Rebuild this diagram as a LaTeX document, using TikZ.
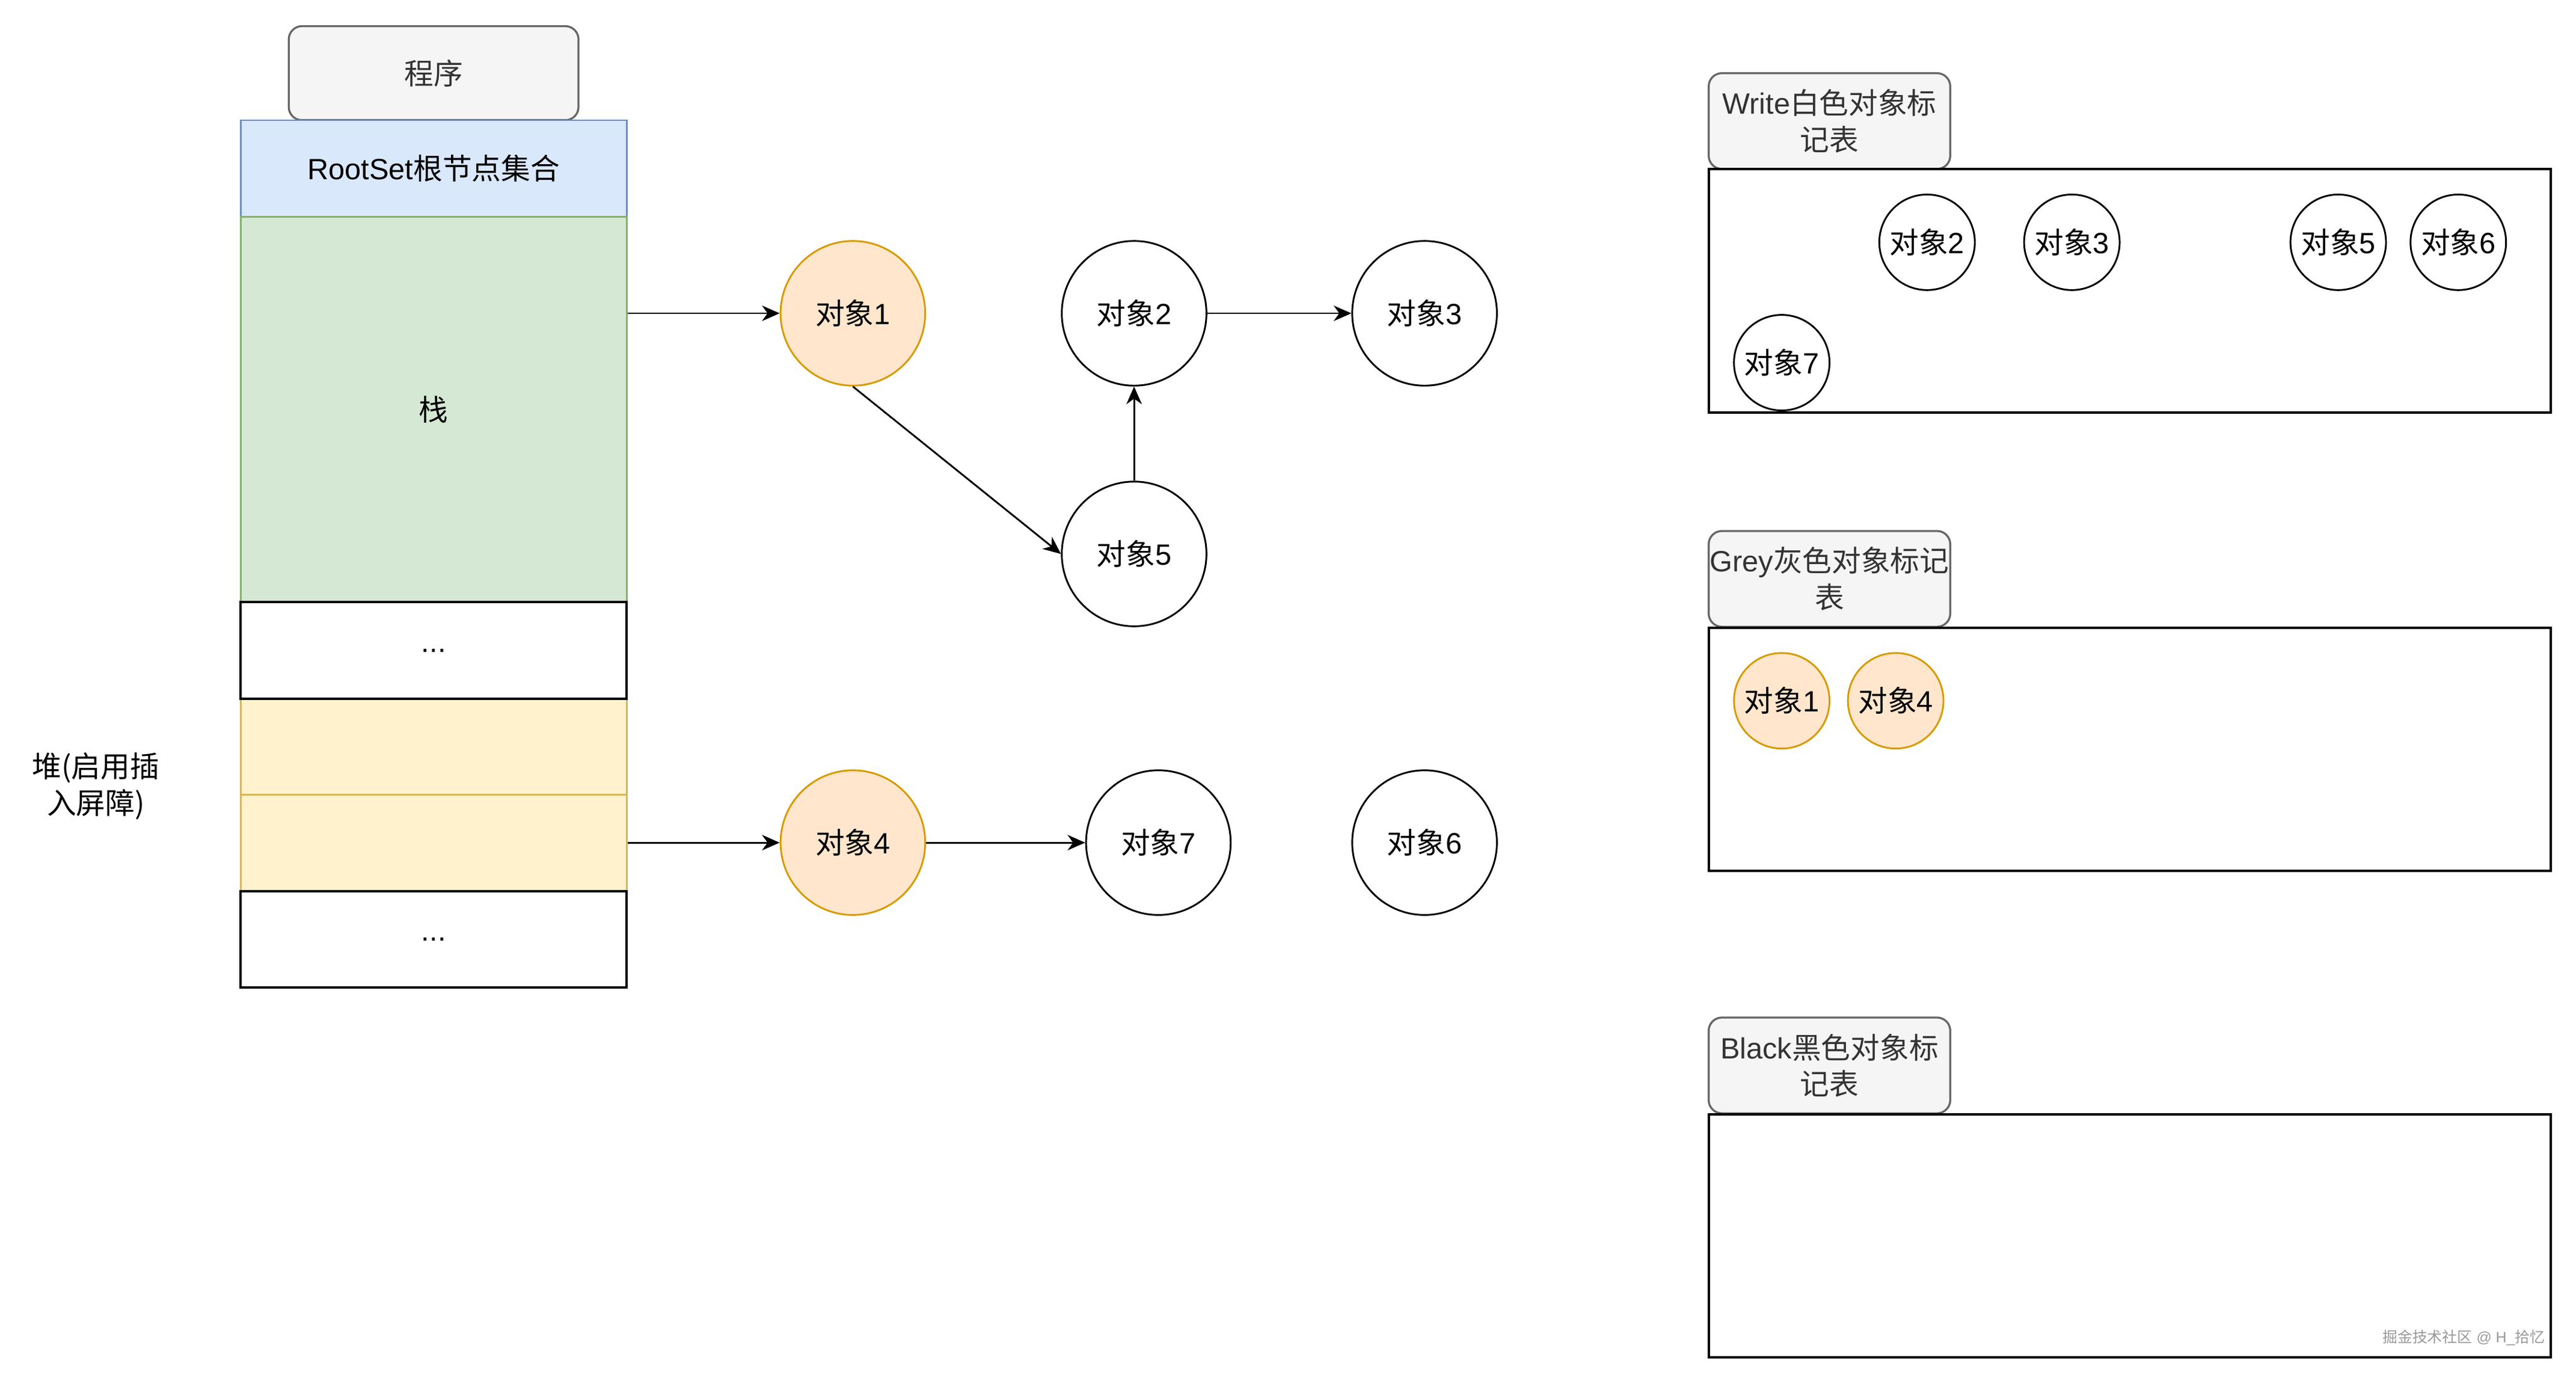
\documentclass[tikz,border=0pt]{standalone}
\usepackage{fontspec}
\setmainfont{Liberation Sans}
\newfontfamily\zh{Noto Sans CJK SC}
\usetikzlibrary{calc,positioning}
\usetikzlibrary{arrows.meta}

\definecolor{tagfill}{HTML}{F5F5F5}
\definecolor{tagline}{HTML}{666666}
\definecolor{tagtext}{HTML}{333333}
\definecolor{rootfill}{HTML}{DAE8FC}
\definecolor{rootline}{HTML}{6C8EBF}
\definecolor{stackfill}{HTML}{D5E8D4}
\definecolor{stackline}{HTML}{82B366}
\definecolor{heapfill}{HTML}{FFF2CC}
\definecolor{heapline}{HTML}{D6B656}
\definecolor{greyfill}{HTML}{FFE6CC}
\definecolor{greyline}{HTML}{D79B00}

\tikzset{
  every node/.style={font=\fontsize{13.3}{16.5}\selectfont},
  cell/.style={draw, line width=1.1pt, minimum width=175.3pt, minimum height=43.77pt, inner sep=0pt},
  tag/.style={draw=tagline, fill=tagfill, text=tagtext, line width=0.9pt, rounded corners=6pt,
    minimum width=109.7pt, minimum height=43.5pt, align=center, inner sep=0pt},
  marktab/.style={draw, line width=1.1pt, minimum width=382.5pt, minimum height=110.5pt, inner sep=0pt},
  objw/.style={circle, draw, line width=0.8pt, minimum size=65.7pt, inner sep=0pt},
  objg/.style={objw, draw=greyline, fill=greyfill},
  sobjw/.style={objw, minimum size=43.4pt},
  sobjg/.style={objg, minimum size=43.4pt},
  arr/.style={line width=0.8pt, -{Stealth[length=8pt,width=7pt,inset=2.5pt]}},
}

\begin{document}
\begin{tikzpicture}[x=0.75pt, y=-0.75pt]
  \useasboundingbox (0,0) rectangle (1560,833);

  % 程序 / 根节点 / 栈 / 堆
  \node[tag, minimum width=131.6pt, minimum height=42.7pt] (prog) at (262.6,44.3) {\zh 程序};
  \node[cell, line width=0.8pt, draw=rootline, fill=rootfill] (root) at (262.65,102) {RootSet{\zh 根节点集合}};
  \node[cell, line width=0.8pt, draw=stackline, fill=stackfill, minimum height=175.05pt] (stack) at (262.65,247.9) {\zh 栈};
  \node[cell, line width=0.8pt, draw=heapline, fill=heapfill] (heapA) at (262.65,452.2) {};
  \node[cell, line width=0.8pt, draw=heapline, fill=heapfill] (heapB) at (262.65,510.5) {};
  \node[cell] (dotsA) at (262.65,393.8) {...};
  \node[cell] (dotsB) at (262.65,568.9) {...};
  \node[align=center] (heap) at (58,476) {\zh 堆(启用插\\\zh 入屏障)};

  % 对象
  \node[objg] (o1) at (516.5,189.7) {{\zh 对象}1};
  \node[objw] (o2) at (686.8,189.7) {{\zh 对象}2};
  \node[objw] (o3) at (862.7,189.7) {{\zh 对象}3};
  \node[objw] (o5) at (686.8,335.4) {{\zh 对象}5};
  \node[objg] (o4) at (516.5,510.2) {{\zh 对象}4};
  \node[objw] (o7) at (701.5,510.2) {{\zh 对象}7};
  \node[objw] (o6) at (862.7,510.2) {{\zh 对象}6};

  \draw[arr] (stack.east |- o1) -- (o1);
  \draw[arr] (o1.south) -- (o5.west);
  \draw[arr] (o5) -- (o2);
  \draw[arr] (o2) -- (o3);
  \draw[arr] (heapB.east |- o4) -- (o4);
  \draw[arr] (o4) -- (o7);

  % 标记表
  \node[tag] (wtag) at (1107.9,73.3) {Write{\zh 白色对象标}\\{\zh 记表}};
  \node[marktab] (wtab) at (1289.8,176) {};
  \node[tag] (gtag) at (1107.9,350.5) {Grey{\zh 灰色对象标记}\\{\zh 表}};
  \node[marktab] (gtab) at (1289.8,453.65) {};
  \node[tag] (btag) at (1107.9,645.1) {Black{\zh 黑色对象标}\\{\zh 记表}};
  \node[marktab] (btab) at (1289.8,748.35) {};

  \foreach \n/\x/\y in {2/1167/146.7, 3/1254.7/146.7, 5/1416/146.7, 6/1488.7/146.7, 7/1079/219.6}
  {
    \node[sobjw] (w\n) at (\x,\y) {{\zh 对象}\n};
  };
  \foreach \n/\x in {1/1079, 4/1148}
  {
    \node[sobjg] (g\n) at (\x,424.3) {{\zh 对象}\n};
  };

  \node[text=black!40, font=\fontsize{6.8}{8}\selectfont] (mark) at (1492,810) {{\zh 掘金技术社区} @ H\_{\zh 拾忆}};
\end{tikzpicture}
\end{document}
